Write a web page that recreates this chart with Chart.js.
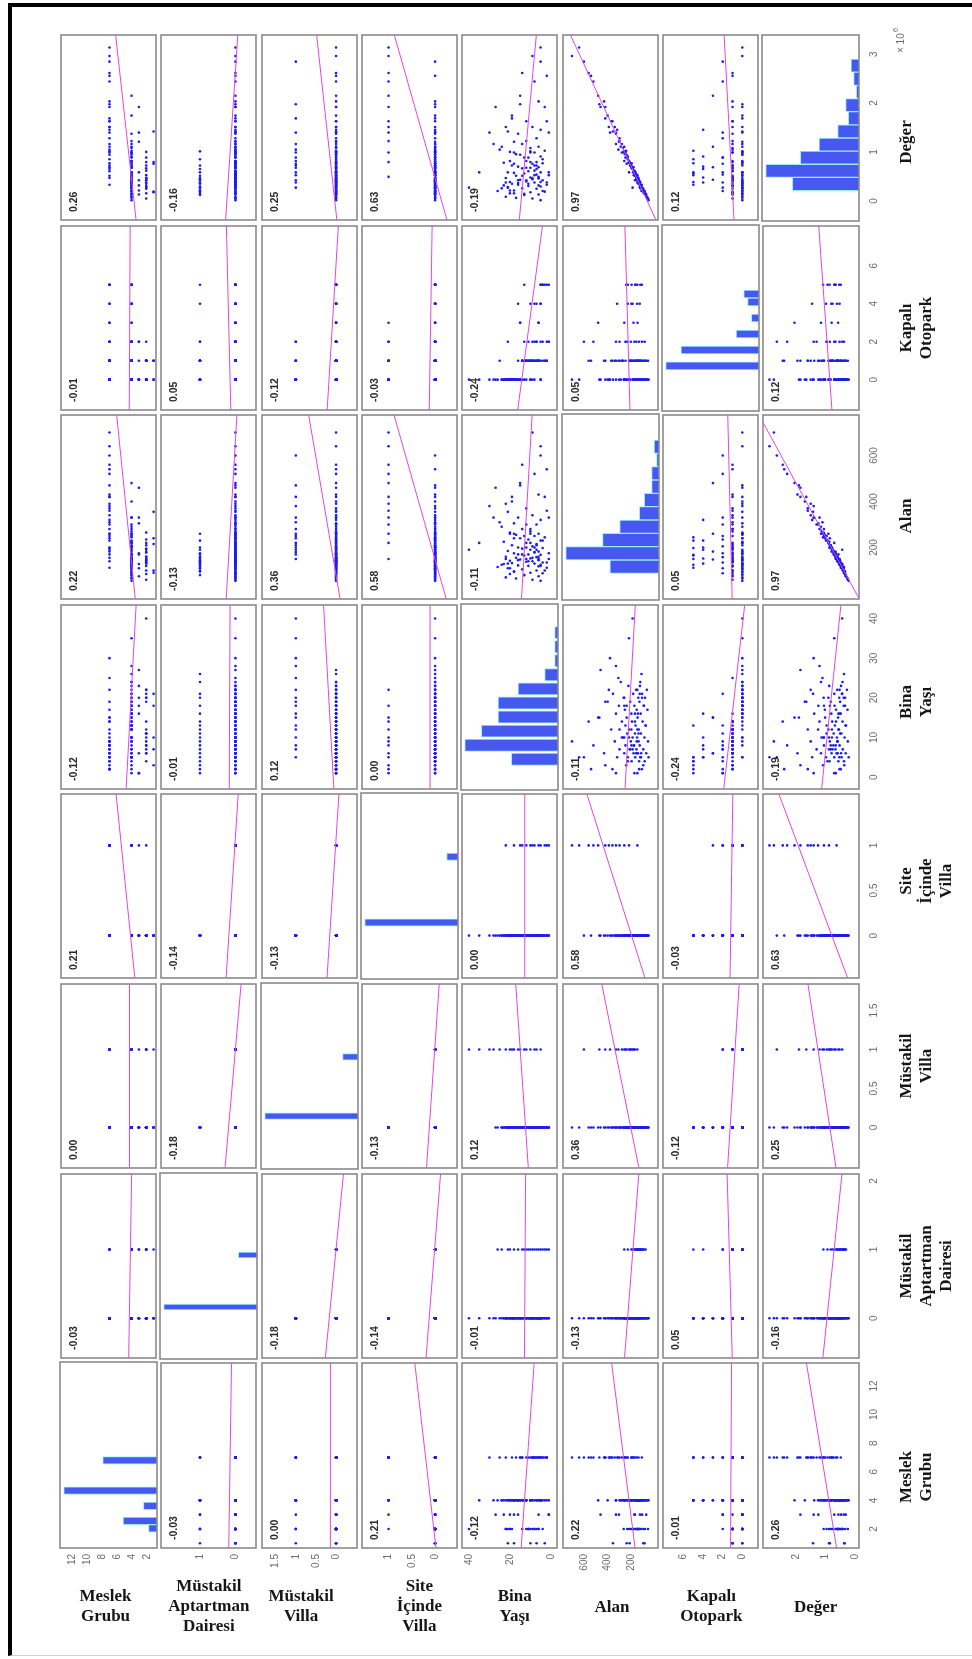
<!DOCTYPE html>
<html>
<head>
<meta charset="utf-8">
<title>Korelasyon matrisi</title>
<script src="https://cdn.jsdelivr.net/npm/chart.js@4.4.1/dist/chart.umd.min.js"></script>
<style>
  body { margin: 0; background: #fff; width: 972px; height: 1659px; overflow: hidden; position: relative; }
  #frame { position: absolute; left: 8px; top: 3px; width: 990px; height: 1648px;
           border-left: 4px solid #000; border-top: 4px solid #000; border-bottom: 1px solid #d0d0d0; }
  .vlab { position: absolute; width: 130px; text-align: center; line-height: 21px;
          font: bold 17px "Liberation Serif", "DejaVu Serif", serif; color: #161616; white-space: nowrap; }
  .vlab.side { transform-origin: 50% 0; transform: rotate(-90deg); }
</style>
</head>
<body>
<div id="frame"></div>
<div id="grid"></div>
<script>
// variable names (multi-line as printed)
const varLabels = [
  ["Meslek", "Grubu"],
  ["Müstakil", "Aptartman", "Dairesi"],
  ["Müstakil", "Villa"],
  ["Site", "İçinde", "Villa"],
  ["Bina", "Yaşı"],
  ["Alan"],
  ["Kapalı", "Otopark"],
  ["Değer"]
];

// observations: 13 site villas, 17 detached villas, 20 detached flats, 70 flats
const meslekGrubu = [
  7, 7, 4, 7, 4, 7, 2, 4, 7, 4, 7, 3, 7,
  4, 7, 2, 4, 7, 4, 1, 4, 7, 2, 4, 7, 3, 4, 7, 2, 4,
  4, 2, 4, 7, 4, 3, 4, 2, 7, 4, 1, 4, 7, 2, 4, 4, 7, 2, 4, 3,
  4, 2, 4, 4, 3, 4, 2, 4, 1, 4,
  2, 4, 4, 7, 4, 2, 4, 4, 3, 4,
  4, 2, 4, 7, 4, 2, 4, 4, 4, 7,
  4, 2, 4, 4, 7, 4, 2, 7, 4, 4,
  2, 7, 4, 4, 2, 1, 4, 4, 4, 2,
  7, 4, 7, 4, 7, 2, 4, 7, 4, 7,
  3, 7, 4, 7, 1, 7, 4, 7, 3, 7
];

const mustakilApt = [
  0, 0, 0, 0, 0, 0, 0, 0, 0, 0, 0, 0, 0,
  0, 0, 0, 0, 0, 0, 0, 0, 0, 0, 0, 0, 0, 0, 0, 0, 0,
  1, 1, 1, 1, 1, 1, 1, 1, 1, 1, 1, 1, 1, 1, 1, 1, 1, 1, 1, 1,
  0, 0, 0, 0, 0, 0, 0, 0, 0, 0,
  0, 0, 0, 0, 0, 0, 0, 0, 0, 0,
  0, 0, 0, 0, 0, 0, 0, 0, 0, 0,
  0, 0, 0, 0, 0, 0, 0, 0, 0, 0,
  0, 0, 0, 0, 0, 0, 0, 0, 0, 0,
  0, 0, 0, 0, 0, 0, 0, 0, 0, 0,
  0, 0, 0, 0, 0, 0, 0, 0, 0, 0
];

const mustakilVilla = [
  0, 0, 0, 0, 0, 0, 0, 0, 0, 0, 0, 0, 0,
  1, 1, 1, 1, 1, 1, 1, 1, 1, 1, 1, 1, 1, 1, 1, 1, 1,
  0, 0, 0, 0, 0, 0, 0, 0, 0, 0, 0, 0, 0, 0, 0, 0, 0, 0, 0, 0,
  0, 0, 0, 0, 0, 0, 0, 0, 0, 0,
  0, 0, 0, 0, 0, 0, 0, 0, 0, 0,
  0, 0, 0, 0, 0, 0, 0, 0, 0, 0,
  0, 0, 0, 0, 0, 0, 0, 0, 0, 0,
  0, 0, 0, 0, 0, 0, 0, 0, 0, 0,
  0, 0, 0, 0, 0, 0, 0, 0, 0, 0,
  0, 0, 0, 0, 0, 0, 0, 0, 0, 0
];

const siteVilla = [
  1, 1, 1, 1, 1, 1, 1, 1, 1, 1, 1, 1, 1,
  0, 0, 0, 0, 0, 0, 0, 0, 0, 0, 0, 0, 0, 0, 0, 0, 0,
  0, 0, 0, 0, 0, 0, 0, 0, 0, 0, 0, 0, 0, 0, 0, 0, 0, 0, 0, 0,
  0, 0, 0, 0, 0, 0, 0, 0, 0, 0,
  0, 0, 0, 0, 0, 0, 0, 0, 0, 0,
  0, 0, 0, 0, 0, 0, 0, 0, 0, 0,
  0, 0, 0, 0, 0, 0, 0, 0, 0, 0,
  0, 0, 0, 0, 0, 0, 0, 0, 0, 0,
  0, 0, 0, 0, 0, 0, 0, 0, 0, 0,
  0, 0, 0, 0, 0, 0, 0, 0, 0, 0
];

const binaYasi = [
  3, 8, 12, 5, 18, 2, 10, 15, 22, 6, 14, 1, 9,
  20, 25, 8, 35, 15, 12, 18, 28, 5, 22, 10, 30, 16, 7, 19, 40, 13,
  5, 12, 18, 8, 2, 20, 14, 6, 10, 24, 3, 16, 7, 21, 9, 13, 4, 11, 26, 1,
  5, 9, 17, 22, 6, 13, 20, 4, 10, 18,
  7, 14, 21, 2, 6, 11, 16, 5, 23, 8,
  19, 4, 12, 9, 20, 6, 15, 1, 10, 17,
  7, 22, 13, 5, 11, 18, 8, 6, 21, 10,
  14, 4, 16, 9, 19, 7, 12, 23, 5, 11,
  15, 3, 8, 17, 6, 20, 10, 14, 24, 7,
  18, 5, 16, 9, 21, 12, 19, 6, 27, 2
];

const alan = [
  420, 520, 300, 640, 260, 360, 220, 480, 390, 150, 560, 330, 700,
  260, 310, 180, 220, 470, 200, 240, 330, 600, 150, 280, 380, 170, 210, 420, 190, 250,
  120, 150, 95, 200, 135, 110, 170, 160, 260, 125, 100, 145, 190, 130, 155, 80, 230, 140, 115, 175,
  55, 60, 65, 70, 75, 80, 85, 88, 90, 95,
  100, 105, 110, 112, 118, 120, 122, 125, 128, 130,
  132, 135, 138, 140, 142, 145, 148, 150, 152, 155,
  158, 160, 165, 168, 170, 175, 178, 182, 185, 190,
  195, 198, 200, 205, 210, 215, 220, 225, 230, 235,
  240, 244, 250, 255, 260, 265, 270, 280, 290, 300,
  305, 320, 330, 340, 355, 370, 400, 430, 460, 540
];

const kapaliOtopark = [
  1, 2, 1, 0, 0, 1, 0, 3, 0, 1, 1, 2, 0,
  0, 1, 0, 0, 0, 1, 0, 0, 2, 0, 1, 0, 0, 1, 0, 0, 2,
  1, 0, 0, 1, 2, 0, 1, 1, 0, 0, 1, 0, 4, 0, 1, 0, 5, 1, 0, 2,
  0, 1, 0, 0, 1, 1, 0, 2, 1, 0,
  1, 0, 2, 5, 1, 1, 0, 5, 0, 4,
  0, 1, 1, 1, 0, 1, 3, 5, 4, 0,
  2, 0, 5, 5, 1, 0, 1, 3, 0, 1,
  1, 5, 4, 2, 0, 1, 1, 0, 4, 2,
  0, 5, 1, 0, 3, 0, 1, 1, 0, 2,
  0, 4, 1, 1, 0, 1, 0, 1, 0, 1
];

const deger = [
  1850000, 2300000, 1250000, 2900000, 1050000, 1600000, 880000, 2050000, 1500000, 620000, 2450000, 1400000, 2750000,
  900000, 1100000, 650000, 700000, 1900000, 780000, 850000, 1200000, 2650000, 520000, 1050000, 1400000, 560000, 820000, 1650000, 430000, 960000,
  450000, 560000, 330000, 820000, 520000, 380000, 640000, 600000, 1070000, 420000, 360000, 510000, 760000, 440000, 580000, 300000, 930000, 500000, 370000, 700000,
  210000, 240000, 250000, 270000, 310000, 320000, 330000, 370000, 350000, 380000,
  410000, 420000, 430000, 480000, 470000, 460000, 480000, 530000, 470000, 520000,
  500000, 560000, 540000, 600000, 530000, 590000, 570000, 650000, 610000, 640000,
  660000, 600000, 680000, 700000, 720000, 690000, 730000, 790000, 700000, 780000,
  770000, 860000, 800000, 850000, 820000, 880000, 900000, 870000, 980000, 960000,
  1010000, 1080000, 1050000, 1020000, 1150000, 1060000, 1130000, 1200000, 1150000, 1300000,
  1240000, 1450000, 1380000, 1500000, 1420000, 1600000, 1700000, 1950000, 1850000, 2400000
];

// printed correlation coefficients, variable order as varLabels
const corrLabels = [
  [1.00, -0.03, 0.00, 0.21, -0.12, 0.22, -0.01, 0.26],
  [-0.03, 1.00, -0.18, -0.14, -0.01, -0.13, 0.05, -0.16],
  [0.00, -0.18, 1.00, -0.13, 0.12, 0.36, -0.12, 0.25],
  [0.21, -0.14, -0.13, 1.00, 0.00, 0.58, -0.03, 0.63],
  [-0.12, -0.01, 0.12, 0.00, 1.00, -0.11, -0.24, -0.19],
  [0.22, -0.13, 0.36, 0.58, -0.11, 1.00, 0.05, 0.97],
  [-0.01, 0.05, -0.12, -0.03, -0.24, 0.05, 1.00, 0.12],
  [0.26, -0.16, 0.25, 0.63, -0.19, 0.97, 0.12, 1.00]
];

// axis limits per variable
const axisLimits = [
  [0.67, 13.6], [-0.58, 2.1], [-0.52, 1.84], [-0.47, 1.57],
  [-3, 43.4], [-24, 776], [-1.6, 8.1], [-140000, 3120000]
];

// tick marks under the bottom row (one list per column variable)
const bottomTickValues = [
  [2, 4, 6, 8, 10, 12], [0, 1], [0, 0.5, 1, 1.5], [0, 0.5, 1],
  [0, 20, 40], [200, 400, 600], [0, 2, 4, 6], [0, 1000000, 2000000]
];
const bottomTickLabels = [
  ["2", "4", "6", "8", "10", "12"], ["0", "1"], ["0", "0.5", "1", "1.5"], ["0", "0.5", "1"],
  ["0", "20", "40"], ["200", "400", "600"], ["0", "2", "4", "6"], ["0", "1", "2"]
];
// tick marks right of the last column (one list per row variable)
const rightTickValues = [
  [2, 4, 6, 8, 10, 12], [0, 1, 2], [0, 0.5, 1, 1.5], [0, 0.5, 1],
  [0, 10, 20, 30, 40], [200, 400, 600], [0, 2, 4, 6], [0, 1000000, 2000000, 3000000]
];
const rightTickLabels = [
  ["2", "4", "6", "8", "10", "12"], ["0", "1", "2"], ["0", "0.5", "1", "1.5"], ["0", "0.5", "1"],
  ["0", "10", "20", "30", "40"], ["200", "400", "600"], ["0", "2", "4", "6"], ["0", "1", "2", "3"]
];

const series = [meslekGrubu, mustakilApt, mustakilVilla, siteVilla, binaYasi, alan, kapaliOtopark, deger];
const NV = series.length;

// layout
const colX0 = 60, colStep = 100.3, panelW = 97;
const rowY0 = 35, rowStep = 189.6, panelH = 186;
const bottomLabelShift = [-3, 0, -8, 10, 5, 2, 1, 5];
const sideLabelShift = [14, 10, 9, 5, -5, -10, 0, 22];

const dotColor = "rgb(28,28,236)";
const fitColor = "rgb(228,70,228)";
const barFill = "rgb(70,88,240)";
const barEdge = "rgb(150,238,255)";
const frameColor = "rgb(138,138,138)";
const tickFont = '10px "Liberation Sans", Arial, sans-serif';
const corrFont = 'bold 10.5px "Liberation Sans", Arial, sans-serif';

function mean(a) { return a.reduce((s, v) => s + v, 0) / a.length; }
function stdev(a) {
  const m = mean(a);
  return Math.sqrt(a.reduce((s, v) => s + (v - m) * (v - m), 0) / (a.length - 1));
}

// 10 equal bins between min and max
function histBins(a, n) {
  const lo = Math.min(...a), hi = Math.max(...a), w = (hi - lo) / n;
  const counts = new Array(n).fill(0);
  a.forEach(v => {
    let k = Math.floor((v - lo) / w + 1e-9);
    if (k >= n) k = n - 1;
    counts[k]++;
  });
  return counts.map((c, k) => ({ x: c, y: lo + (k + 0.5) * w }));
}

function rotText(ctx, text, x, y, align, baseline) {
  ctx.save();
  ctx.translate(x, y);
  ctx.rotate(-Math.PI / 2);
  ctx.textAlign = align;
  ctx.textBaseline = baseline;
  ctx.fillText(text, 0, 0);
  ctx.restore();
}

// frame, coefficient and outer tick labels of one panel
const matrixDecor = {
  id: "matrixDecor",
  afterDatasetsDraw(chart, args, opts) {
    const ctx = chart.ctx, a = chart.chartArea;
    ctx.save();
    ctx.strokeStyle = frameColor;
    ctx.lineWidth = 1.6;
    ctx.strokeRect(a.left, a.top, a.right - a.left, a.bottom - a.top);

    if (opts.corr !== null) {
      ctx.font = corrFont;
      ctx.fillStyle = "#2a2a2a";
      rotText(ctx, opts.corr.toFixed(2), a.left + 8, a.bottom - 8, "left", "top");
    }
    ctx.font = tickFont;
    ctx.fillStyle = "#6c6c6c";
    if (opts.bottomTicks) {
      const sx = chart.scales.xv || chart.scales.x;
      opts.bottomTicks.values.forEach((v, k) => {
        rotText(ctx, opts.bottomTicks.labels[k], sx.getPixelForValue(v), a.bottom + 6, "right", "middle");
      });
    }
    if (opts.rightTicks) {
      const sy = chart.scales.y;
      opts.rightTicks.values.forEach((v, k) => {
        rotText(ctx, opts.rightTicks.labels[k], a.right + 10, sy.getPixelForValue(v), "center", "top");
      });
    }
    if (opts.exponent) {
      const base = "× 10";
      const w = ctx.measureText(base).width;
      const y0 = a.top + 18;
      rotText(ctx, base, a.right + 37, y0, "left", "top");
      ctx.font = '8px "Liberation Sans", Arial, sans-serif';
      rotText(ctx, "6", a.right + 33, y0 - w - 1, "left", "top");
    }
    ctx.restore();
  }
};

const grid = document.getElementById("grid");

for (let i = 0; i < NV; i++) {
  for (let j = 0; j < NV; j++) {
    const rowVar = NV - 1 - i;   // plotted upward
    const colVar = j;            // plotted right-to-left
    const isDiag = rowVar === colVar;
    const padL = 3;
    const padT = i === 0 ? 14 : 3;
    const padB = i === NV - 1 ? 42 : 3;
    const padR = j === NV - 1 ? 52 : 3;

    const canvas = document.createElement("canvas");
    canvas.width = panelW + padL + padR;
    canvas.height = panelH + padT + padB;
    canvas.style.position = "absolute";
    canvas.style.left = (Math.round(colX0 + j * colStep) - padL) + "px";
    canvas.style.top = (Math.round(rowY0 + i * rowStep) - padT) + "px";
    grid.appendChild(canvas);

    const yLim = axisLimits[rowVar], xLim = axisLimits[colVar];
    const decor = {
      corr: isDiag ? null : corrLabels[rowVar][colVar],
      bottomTicks: i === NV - 1 ? { values: bottomTickValues[colVar], labels: bottomTickLabels[colVar] } : null,
      rightTicks: j === NV - 1 ? { values: rightTickValues[rowVar], labels: rightTickLabels[rowVar] } : null,
      exponent: i === 0 && j === NV - 1
    };
    const common = {
      responsive: false,
      animation: false,
      events: [],
      layout: { padding: { left: padL, top: padT, right: padR, bottom: padB } },
      plugins: { legend: { display: false }, tooltip: { enabled: false }, matrixDecor: decor }
    };

    if (isDiag) {
      const bins = histBins(series[rowVar], 10);
      const maxCount = Math.max(...bins.map(b => b.x));
      new Chart(canvas, {
        type: "bar",
        data: {
          datasets: [{
            data: bins,
            backgroundColor: barFill,
            borderColor: barEdge,
            borderWidth: 1,
            barPercentage: 1,
            categoryPercentage: 1
          }]
        },
        options: Object.assign({}, common, {
          indexAxis: "y",
          scales: {
            x: { type: "linear", reverse: true, min: 0, max: maxCount * 1.04, display: false },
            xv: { type: "linear", axis: "x", reverse: true, min: xLim[0], max: xLim[1], display: false },
            y: { type: "linear", min: yLim[0], max: yLim[1], display: false }
          }
        }),
        plugins: [matrixDecor]
      });
    } else {
      const ys = series[rowVar], xs = series[colVar];
      // least-squares line of the column variable on the row variable
      const slope = corrLabels[rowVar][colVar] * stdev(xs) / stdev(ys);
      const mx = mean(xs), my = mean(ys);
      const fit = yLim.map(y => ({ x: mx + slope * (y - my), y: y }));
      new Chart(canvas, {
        type: "scatter",
        data: {
          datasets: [
            {
              data: ys.map((v, k) => ({ x: xs[k], y: v })),
              pointRadius: 1.3,
              pointBackgroundColor: dotColor,
              pointBorderWidth: 0,
              order: 2
            },
            {
              data: fit,
              showLine: true,
              borderColor: fitColor,
              borderWidth: 1,
              pointRadius: 0,
              order: 1
            }
          ]
        },
        options: Object.assign({}, common, {
          scales: {
            x: { type: "linear", reverse: true, min: xLim[0], max: xLim[1], display: false },
            y: { type: "linear", min: yLim[0], max: yLim[1], display: false }
          }
        }),
        plugins: [matrixDecor]
      });
    }
  }
}

// variable names: horizontal under the columns, rotated beside the rows
varLabels.forEach((lines, v) => {
  const below = document.createElement("div");
  below.className = "vlab";
  below.innerHTML = lines.join("<br>");
  const cx = colX0 + v * colStep + panelW / 2 + bottomLabelShift[v];
  below.style.left = (cx - 65) + "px";
  below.style.top = (1607 - lines.length * 10.5) + "px";
  document.body.appendChild(below);

  const row = NV - 1 - v;
  const side = document.createElement("div");
  side.className = "vlab side";
  side.innerHTML = lines.join("<br>");
  const cy = rowY0 + row * rowStep + panelH / 2 + sideLabelShift[row];
  side.style.left = (896 - 65) + "px";
  side.style.top = cy + "px";
  document.body.appendChild(side);
});
</script>
</body>
</html>
